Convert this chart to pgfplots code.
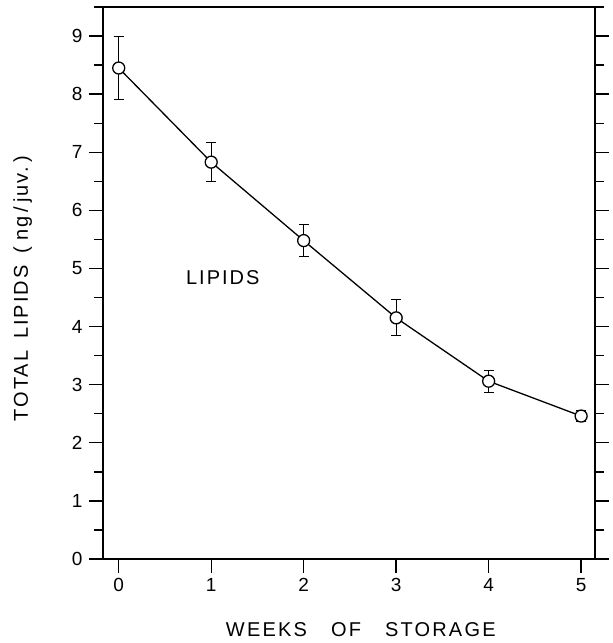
\documentclass[border=0pt]{standalone}
\usepackage{fontspec}
\setmainfont{Liberation Sans}
\usepackage{pgfplots}
\pgfplotsset{compat=1.18}
\begin{document}
\begin{tikzpicture}
\useasboundingbox (-103pt,-84pt) rectangle (510pt,559pt);
\begin{axis}[
  at={(0,0)}, anchor=south west,
  scale only axis,
  width=492pt, height=552pt,
  xmin=-0.17, xmax=5.15,
  ymin=0, ymax=9.5,
  xtick={0,1,2,3,4,5},
  ytick={0,1,...,9},
  minor ytick={0.5,1.5,...,9.5},
  xtick pos=bottom,
  ytick pos=both,
  tick align=outside,
  major tick length=14pt,
  minor tick length=9pt,
  every tick/.style={black, line width=1.4pt},
  axis line style={line width=1.8pt},
  /pgf/number format/assume math mode=true,
  xticklabel={\fontsize{19}{22}\selectfont\pgfmathprintnumber{\tick}},
  yticklabel={\fontsize{19}{22}\selectfont\pgfmathprintnumber{\tick}},
  yticklabel style={xshift=-3pt},
  xticklabel style={anchor=north, yshift=-2pt},
  xlabel={\addfontfeatures{LetterSpace=11}WEEKS\hspace{24pt}OF\hspace{24pt}STORAGE},
  ylabel={\addfontfeatures{LetterSpace=10}TOTAL\hspace{12pt}LIPIDS\hspace{12pt}(\hspace{6pt}ng\hspace{4pt}/\hspace{4pt}juv.\hspace{5pt})},
  xlabel style={font=\fontsize{20}{24}\selectfont, at={(axis description cs:0.524,-0.128)}, anchor=center},
  ylabel style={font=\fontsize{20}{24}\selectfont, at={(axis description cs:-0.163,0.49)}, anchor=center},
]
% error bars first, so that the open circles cover them
\addplot[draw=none, mark=none,
  error bars/.cd, y dir=both, y explicit,
  error bar style={black, line width=1pt},
  error mark options={black, rotate=90, mark size=5pt, line width=1pt}]
  coordinates {
    (0,8.45) +- (0,0.55)
    (1,6.83) +- (0,0.33)
    (2,5.48) +- (0,0.28)
    (3,4.15) +- (0,0.31)
    (4,3.06) +- (0,0.19)
    (5,2.46) +- (0,0.09)
  };
\addplot[black, line width=1.3pt, mark=*, mark size=6pt,
  mark options={fill=white, draw=black, line width=1.3pt}]
  coordinates {
    (0,8.45) (1,6.83) (2,5.48) (3,4.15) (4,3.06) (5,2.46)
  };
\node[font=\fontsize{20}{24}\selectfont, anchor=center] at (axis cs:1.125,4.85) {\addfontfeatures{LetterSpace=10}LIPIDS};
\draw[line width=1.8pt] (axis description cs:-0.026,0) -- (axis description cs:0,0);
\draw[line width=1.8pt] (axis description cs:1,1) -- (axis description cs:1.024,1);
\end{axis}
\end{tikzpicture}
\end{document}
